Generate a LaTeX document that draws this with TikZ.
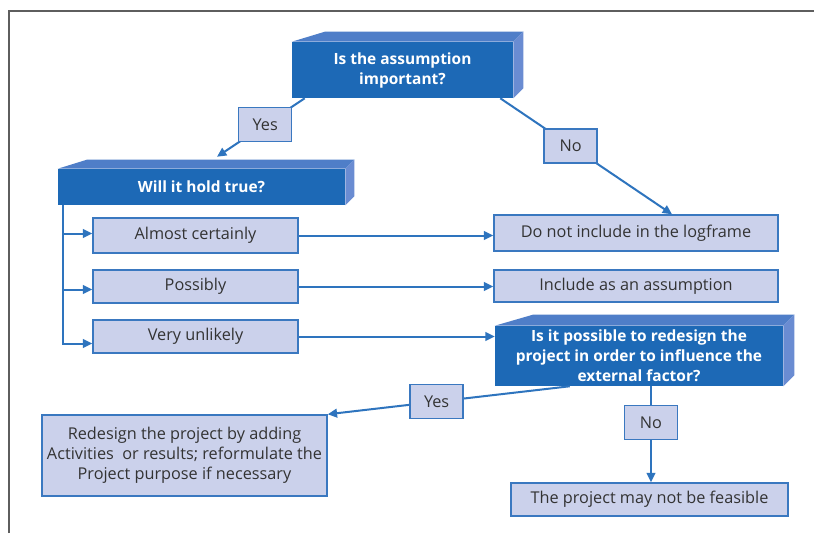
\documentclass[tikz,border=0pt]{standalone}
\usepackage{fontspec}
\setmainfont{Open Sans}
\usetikzlibrary{arrows.meta,calc}

\definecolor{frontblue}{HTML}{1D69B6}
\definecolor{topblue}{HTML}{4F7EC8}
\definecolor{sideblue}{HTML}{6A8CD2}
\definecolor{lightbox}{HTML}{CBD1EB}
\definecolor{edgeblue}{HTML}{3A78C0}
\definecolor{linkblue}{HTML}{2E74BE}
\definecolor{inktext}{HTML}{333333}
\definecolor{framegray}{HTML}{5E5E5E}

\tikzset{
  sz/.style 2 args={minimum width=#1*0.75pt, minimum height=#2*0.75pt},
  question/.style={fill=frontblue, text=white, inner sep=0pt, align=center,
    font=\bfseries\fontsize{11.6}{15}\selectfont},
  answer/.style={fill=lightbox, draw=edgeblue, line width=1.1pt, text=inktext,
    inner sep=0pt, align=center, font=\fontsize{12.2}{15}\selectfont},
  tag/.style={answer, sz={53}{34}},
  link/.style={draw=linkblue, line width=1.5pt, -{Triangle[length=7pt,width=6.5pt]}},
}

% top and side faces of a solid question box: node, left slant, depth
\newcommand\solidfaces[3]{%
  \fill[topblue] (#1.north west) -- ++(#2,-#3) -- ($(#1.north east)+(#3,-#3)$)
    -- (#1.north east) -- cycle;
  \fill[sideblue] (#1.north east) -- ++(#3,-#3) -- ($(#1.south east)+(#3,-#3)$)
    -- (#1.south east) -- cycle;}

\begin{document}
\begin{tikzpicture}[x=0.75pt, y=-0.75pt]
  \useasboundingbox (0,0) rectangle (814,533);
  \fill[white] (0,0) rectangle (814,533);

  % page frame
  \draw[framegray, line width=2pt] (9,533) -- (9,11) -- (814,11);

  % questions
  \node[question, sz={221}{56}] (top) at (402.5,70) {Is the assumption\\important?};
  \solidfaces{top}{33}{10}
  \node[question, sz={287}{36}] (will) at (201.5,187) {Will it hold true?};
  \solidfaces{will}{29}{9}
  \node[question, sz={288}{60}] (possible) at (639,356)
    {Is it possible to redesign the\\project in order to influence the\\external factor?};
  \solidfaces{possible}{38}{11}

  % answers
  \node[answer, sz={205}{35}] (almost) at (195.5,235.5) {Almost certainly};
  \node[answer, sz={205}{33}] (possibly) at (195.5,286.5) {Possibly};
  \node[answer, sz={205}{33}] (very) at (195.5,336.5) {Very unlikely};
  \node[answer, sz={284}{36}] (donot) at (636,233) {Do not include in the logframe};
  \node[answer, sz={284}{32}] (include) at (636,286) {Include as an assumption};
  \node[answer, sz={285}{81}] (redesign) at (184.5,455.5)
    {Redesign the project by adding\\Activities\ \ or results; reformulate the\\Project purpose if necessary};
  \node[answer, sz={277}{33}] (feasible) at (649.5,499.5) {The project may not be feasible};

  % connectors
  \draw[link] ($(top.south west)+(13,0)$) -- node[tag, pos=0.45] {Yes}
    ($(will.north)+(15.5,-12)$);
  \draw[link] ($(top.south east)+(-13,0)$) -- node[tag, pos=0.41] {No}
    ($(donot.north)+(36,0)$);

  \draw[link] ($(will.south west)+(5,0)$) |- ($(almost.west)+(0,-2)$);
  \draw[link] ($(will.south west)+(5,0)$) |- ($(possibly.west)+(0,3)$);
  \draw[link] ($(will.south west)+(5,0)$) |- ($(very.west)+(0,7)$);

  \draw[link] (almost.east) -- (almost.east -| donot.west);
  \draw[link] (possibly.east) -- (possibly.east -| include.west);
  \draw[link] (very.east) -- (very.east -| possible.west);

  \draw[link] ($(possible.south west)+(75,0)$) -- node[tag, pos=0.55] {Yes}
    (redesign.north east);
  \coordinate (drop) at ($(possible.south)+(12,0)$);
  \draw[link] (drop) -- node[tag, pos=0.38] {No} (drop |- feasible.north);
\end{tikzpicture}
\end{document}
